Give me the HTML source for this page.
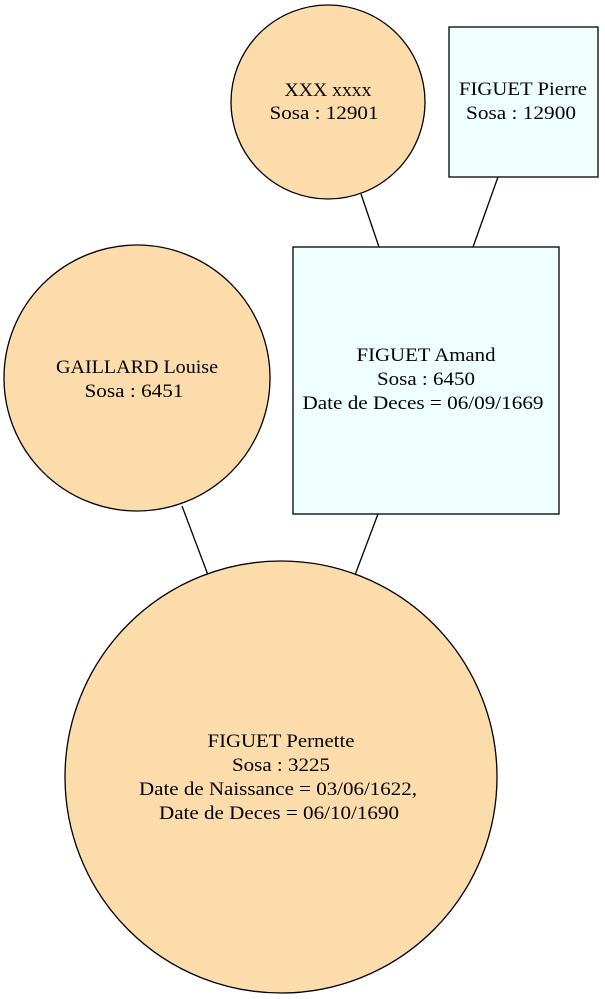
<!DOCTYPE html>
<html><head><style>body{margin:0;background:#fff}svg{display:block}text{font-family:"Liberation Serif",serif;font-size:19px}</style></head><body>
<svg width="605" height="999" xmlns="http://www.w3.org/2000/svg" text-anchor="middle">
<g stroke="#000" stroke-width="1.3" fill="none">
<line x1="361" y1="194" x2="379" y2="247"/>
<line x1="498" y1="177" x2="473" y2="247"/>
<line x1="182" y1="506" x2="208" y2="575"/>
<line x1="378" y1="514" x2="355" y2="575"/>
</g>
<g stroke="#000" stroke-width="1.3">
<circle cx="328" cy="102" r="97" fill="#fddcac"/>
<rect x="449" y="27" width="149" height="150" fill="#efffff"/>
<circle cx="137" cy="378" r="133" fill="#fddcac"/>
<rect x="293" y="247" width="266" height="267" fill="#efffff"/>
<circle cx="281" cy="777" r="216" fill="#fddcac"/>
</g>
<g lengthAdjust="spacingAndGlyphs">
<text x="328" y="96" textLength="87" lengthAdjust="spacingAndGlyphs">XXX xxxx</text><text x="324" y="119" textLength="109" lengthAdjust="spacingAndGlyphs">Sosa : 12901</text>
<text x="523" y="95" textLength="128" lengthAdjust="spacingAndGlyphs">FIGUET Pierre</text><text x="521" y="119" textLength="110" lengthAdjust="spacingAndGlyphs">Sosa : 12900</text>
<text x="137" y="373" textLength="162" lengthAdjust="spacingAndGlyphs">GAILLARD Louise</text><text x="134" y="397" textLength="99" lengthAdjust="spacingAndGlyphs">Sosa : 6451</text>
<text x="426" y="361" textLength="139" lengthAdjust="spacingAndGlyphs">FIGUET Amand</text><text x="426" y="385" textLength="98" lengthAdjust="spacingAndGlyphs">Sosa : 6450</text><text x="423" y="409" textLength="241" lengthAdjust="spacingAndGlyphs">Date de Deces = 06/09/1669</text>
<text x="281" y="747" textLength="147" lengthAdjust="spacingAndGlyphs">FIGUET Pernette</text><text x="281" y="771" textLength="98" lengthAdjust="spacingAndGlyphs">Sosa : 3225</text><text x="278" y="795" textLength="278" lengthAdjust="spacingAndGlyphs">Date de Naissance = 03/06/1622,</text><text x="279" y="819" textLength="240" lengthAdjust="spacingAndGlyphs">Date de Deces = 06/10/1690</text>
</g>
</svg>
</body></html>
